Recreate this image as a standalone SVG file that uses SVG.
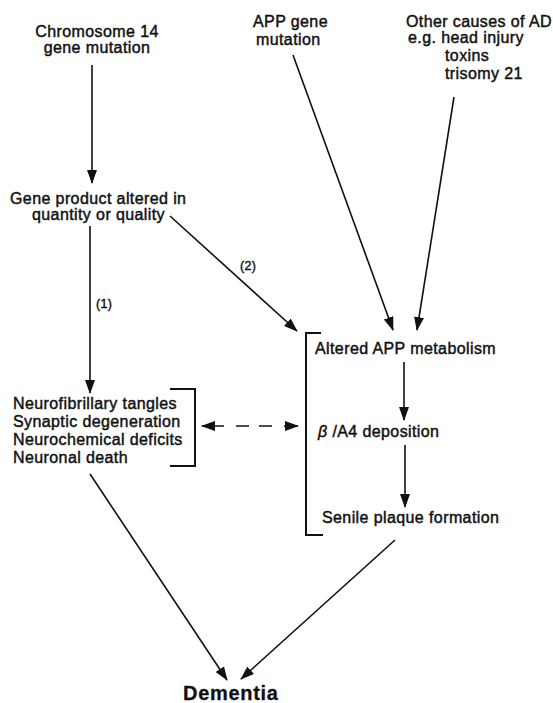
<svg xmlns="http://www.w3.org/2000/svg" width="553" height="703" viewBox="0 0 553 703">
<style>
text{font-family:"Liberation Sans",Arial,sans-serif;font-size:16px;letter-spacing:0.4px;fill:#111;stroke:#111;stroke-width:0.45}
.small{font-size:12.5px;letter-spacing:0.3px;stroke-width:0.4}
.big{font-size:20px;font-weight:bold;letter-spacing:0.7px;stroke-width:0.3}
.ln{stroke:#111;stroke-width:1.6;fill:none}
.br{stroke:#111;stroke-width:2;fill:none}
</style>
<defs>
<marker id="ah" viewBox="0 0 14 10" refX="13" refY="5" markerWidth="14" markerHeight="10" markerUnits="userSpaceOnUse" orient="auto-start-reverse">
<path d="M0,0 L14,5 L0,10 z" fill="#111"/>
</marker>
</defs>
<rect width="553" height="703" fill="#fff"/>
<g id="chrom14">
<text x="97" y="37" text-anchor="middle">Chromosome 14</text>
<text x="97" y="53" text-anchor="middle">gene mutation</text>
</g>
<g id="appgene">
<text x="253" y="27">APP gene</text>
<text x="256" y="45">mutation</text>
</g>
<g id="othercauses">
<text x="406" y="27">Other causes of AD</text>
<text x="408" y="43">e.g. head injury</text>
<text x="445" y="61">toxins</text>
<text x="445" y="79">trisomy 21</text>
</g>
<g id="geneproduct">
<text x="10" y="204">Gene product altered in</text>
<text x="32" y="220">quantity or quality</text>
</g>
<g id="neuro">
<text x="13" y="409">Neurofibrillary tangles</text>
<text x="13" y="427">Synaptic degeneration</text>
<text x="13" y="445">Neurochemical deficits</text>
<text x="13" y="463">Neuronal death</text>
<path class="br" d="M170,389 H195 V466 H170"/>
</g>
<g id="appmeta">
<path class="br" d="M321,333 H306 V535 H323"/>
<text x="315" y="354">Altered APP metabolism</text>
<text x="318" y="437"><tspan font-style="italic">β</tspan> /A4 deposition</text>
<text x="322" y="523">Senile plaque formation</text>
</g>
<g id="dementia">
<text class="big" x="183" y="700">Dementia</text>
</g>
<g id="connectors">
<line class="ln" x1="92" y1="65" x2="92" y2="183" marker-end="url(#ah)"/>
<line class="ln" x1="90" y1="226" x2="90" y2="393" marker-end="url(#ah)"/>
<line class="ln" x1="170" y1="216" x2="297" y2="331" marker-end="url(#ah)"/>
<line class="ln" x1="293" y1="55" x2="393" y2="330" marker-end="url(#ah)"/>
<line class="ln" x1="454" y1="97" x2="417" y2="330" marker-end="url(#ah)"/>
<line class="ln" x1="404" y1="362" x2="404" y2="420" marker-end="url(#ah)"/>
<line class="ln" x1="405" y1="445" x2="405" y2="507" marker-end="url(#ah)"/>
<line class="ln" x1="90" y1="474" x2="227" y2="680" marker-end="url(#ah)"/>
<line class="ln" x1="395" y1="540" x2="241" y2="679" marker-end="url(#ah)"/>
<line class="ln" x1="202" y1="426" x2="298" y2="426" stroke-width="2" stroke-dasharray="22 12 13 10 13 12 30" marker-start="url(#ah)" marker-end="url(#ah)"/>
<text class="small" x="96" y="308">(1)</text>
<text class="small" x="240" y="270">(2)</text>
</g>
</svg>
